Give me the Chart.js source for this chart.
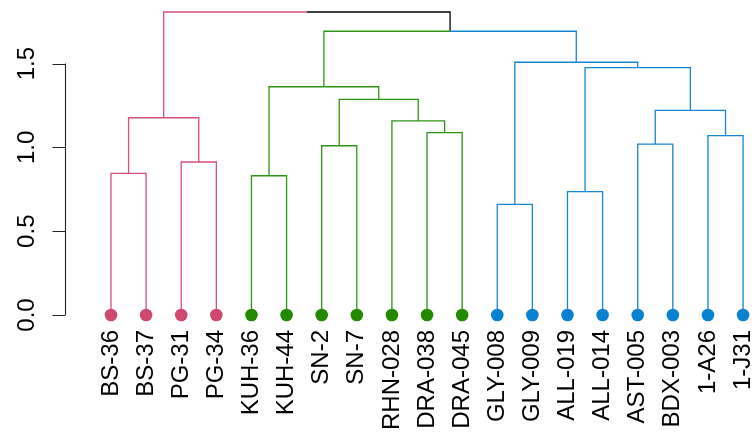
<!DOCTYPE html>
<html><head><meta charset="utf-8">
<script src="https://cdn.jsdelivr.net/npm/chart.js@4"></script>
<style>html,body{margin:0;padding:0;background:#fff}#wrap{width:755px;height:439px}</style>
</head><body><div id="wrap"><canvas id="c" width="755" height="439"></canvas></div>
<script>
// Leaves in display order (left to right)
const leafLabels = ["BS-36","BS-37","PG-31","PG-34","KUH-36","KUH-44","SN-2","SN-7","RHN-028","DRA-038","DRA-045","GLY-008","GLY-009","ALL-019","ALL-014","AST-005","BDX-003","1-A26","1-J31"];
const leafCluster = [0,0,0,0,1,1,1,1,1,1,1,2,2,2,2,2,2,2,2];
// hclust-style merges: negative = leaf (1-based position), positive = earlier merge (1-based)
const mergeLeft   = [-1,-3,1,-5,-7,-10,-9,5,4,-12,-14,-16,-18,12,11,10,9,3];
const mergeRight  = [-2,-4,2,-6,-8,-11,6,7,8,-13,-15,-17,-19,13,14,15,16,17];
const mergeHeight = [0.845,0.913,1.177,0.831,1.010,1.088,1.158,1.287,1.362,0.660,0.736,1.020,1.070,1.221,1.476,1.508,1.693,1.808];
const yTicks = [0, 0.5, 1.0, 1.5];

const clusterLine = ["#D6507A", "#2E9412", "#1387D4"];
const clusterDot  = ["#CE4870", "#238A00", "#0882D0"];
const rootColor = "#000000";

function nodeInfo(id) {
  if (id < 0) { const i = -id; return { x: i, h: 0, color: clusterLine[leafCluster[i-1]] }; }
  return nodes[id-1];
}
const nodes = [];
const segByColor = {};
function addSeg(color, pts) {
  if (!segByColor[color]) segByColor[color] = [];
  segByColor[color].push(...pts, { x: pts[pts.length-1].x, y: null });
}
for (let k = 0; k < mergeHeight.length; k++) {
  const a = nodeInfo(mergeLeft[k]), b = nodeInfo(mergeRight[k]);
  const h = mergeHeight[k];
  const x = (a.x + b.x) / 2;
  const color = (a.color === b.color) ? a.color : rootColor;
  nodes.push({ x, h, color });
  addSeg(a.color, [{x, y:h},{x:a.x, y:h},{x:a.x, y:a.h}]);
  addSeg(b.color, [{x, y:h},{x:b.x, y:h},{x:b.x, y:b.h}]);
}

const datasets = [{
  type: 'scatter',
  data: leafLabels.map((_, i) => ({ x: i + 1, y: 0 })),
  pointRadius: 6.3,
  pointBorderWidth: 0,
  pointBackgroundColor: leafCluster.map(c => clusterDot[c]),
  order: 0,
  clip: false
}];
Object.keys(segByColor).forEach(col => {
  datasets.push({
    type: 'line',
    data: segByColor[col],
    borderColor: col,
    borderWidth: 1.3,
    pointRadius: 0,
    spanGaps: false,
    tension: 0,
    order: 1,
    clip: false
  });
});

const FONT = "'Liberation Sans', Arial, Helvetica, sans-serif";

const yAxisPlugin = {
  id: 'rAxis',
  afterDraw(chart) {
    const ctx = chart.ctx, ys = chart.scales.y;
    const left = chart.chartArea.left;
    const tl = 13;
    ctx.save();
    ctx.strokeStyle = '#222';
    ctx.lineWidth = 1.1;
    ctx.beginPath();
    const xa = left + 0.5;
    ctx.moveTo(xa, ys.getPixelForValue(yTicks[0]));
    ctx.lineTo(xa, ys.getPixelForValue(yTicks[yTicks.length-1]));
    yTicks.forEach(v => {
      const py = Math.round(ys.getPixelForValue(v)) + 0.5;
      ctx.moveTo(xa, py); ctx.lineTo(xa - tl, py);
    });
    ctx.stroke();
    ctx.fillStyle = '#000';
    ctx.font = '24px ' + FONT;
    ctx.textAlign = 'center';
    ctx.textBaseline = 'alphabetic';
    yTicks.forEach(v => {
      const py = ys.getPixelForValue(v);
      ctx.save();
      ctx.translate(left - 31, py);
      ctx.rotate(-Math.PI / 2);
      ctx.fillText(v.toFixed(1), 0, 0);
      ctx.restore();
    });
    ctx.restore();
  }
};

new Chart(document.getElementById('c'), {
  data: { datasets },
  plugins: [yAxisPlugin],
  options: {
    responsive: false,
    animation: false,
    layout: { autoPadding: false, padding: { left: 65, right: 0, top: 0, bottom: 0 } },
    plugins: { legend: { display: false }, tooltip: { enabled: false } },
    scales: {
      x: {
        type: 'linear', min: -0.31, max: 19.34,
        grid: { display: false, drawTicks: false },
        border: { display: false },
        afterBuildTicks: s => { s.ticks = leafLabels.map((_, i) => ({ value: i + 1 })); },
        afterFit: s => { s.height = 124; s.paddingLeft = 0; s.paddingRight = 0; },
        ticks: {
          autoSkip: false, minRotation: 90, maxRotation: 90, padding: 15,
          color: '#000', font: { family: FONT, size: 24 },
          callback: v => leafLabels[v - 1]
        }
      },
      y: { display: false, type: 'linear', min: 0, max: 1.8795 }
    }
  }
});
</script></body></html>
